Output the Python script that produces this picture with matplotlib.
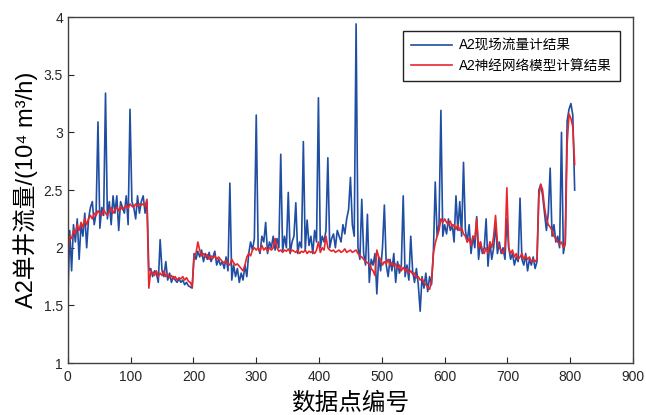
import numpy as np
import matplotlib
matplotlib.use('Agg')
import matplotlib.pyplot as plt

plt.rcParams['font.family'] = ['Liberation Sans', 'Noto Sans CJK SC', 'DejaVu Sans']

# sample index, every 3 points
idx = np.arange(0, 810, 3)

# A2 field flowmeter readings
flow_meter = [
    1.55, 2.15, 1.8, 2.2, 2.05, 2.25, 1.9, 2.2, 2.1, 2.3,
    2.0, 2.25, 2.35, 2.4, 2.2, 2.3, 3.09, 2.17, 2.35, 2.28,
    3.34, 2.25, 2.4, 2.2, 2.45, 2.3, 2.45, 2.15, 2.4, 2.35,
    2.3, 2.45, 2.2, 3.2, 2.4, 2.35, 2.25, 2.45, 2.3, 2.4,
    2.45, 2.3, 2.4, 1.8, 1.82, 1.75, 1.8, 1.78, 1.7, 2.07,
    1.8, 1.75, 1.88, 1.72, 1.78, 1.7, 1.75, 1.72, 1.7, 1.73,
    1.7, 1.72, 1.68, 1.7, 1.67, 1.66, 1.65, 1.95, 1.9, 1.97,
    1.92, 1.98, 1.88, 1.95, 1.9, 1.96, 1.88, 1.92, 1.97, 1.85,
    1.9, 1.85, 1.88, 1.82, 1.92, 1.8, 2.56, 1.72, 1.85, 1.75,
    1.82, 1.7, 1.78, 1.72, 1.85, 1.75, 1.95, 2.05, 1.98, 2.08,
    3.15, 2.0, 1.95, 2.1, 2.05, 2.22, 1.95, 2.05, 2.0, 2.1,
    1.98, 2.08, 2.0, 2.81, 1.97, 2.1, 2.0, 2.48, 1.95, 2.05,
    2.1, 2.39, 1.95, 2.05, 2.0, 2.92, 1.98, 2.24, 2.02, 2.1,
    1.95, 2.15, 2.05, 3.3, 2.0, 2.1, 2.05, 2.15, 2.78, 2.0,
    2.08, 2.12, 2.0, 2.15, 2.1, 2.05, 2.2, 2.12, 2.25, 2.33,
    2.61, 2.2, 2.1, 3.94, 2.0, 1.9, 2.42, 1.95, 1.85, 2.29,
    1.7, 1.9, 1.85, 1.95, 1.6, 1.92, 1.8, 2.0, 2.37, 1.85,
    1.75, 1.9, 1.8, 1.95, 1.7, 1.88, 1.78, 1.85, 2.45, 1.75,
    1.85, 1.72, 2.1, 1.8, 1.7, 1.82, 1.68, 1.45, 1.75, 1.65,
    1.78, 1.62, 1.75, 1.68, 1.95, 2.57, 2.1, 2.2, 3.19, 2.1,
    2.2, 2.12, 2.25, 2.15, 2.2, 2.05, 2.45, 2.15, 2.4, 2.1,
    2.74, 2.15, 2.05, 2.2, 1.95, 2.1, 2.0, 2.27, 1.9, 2.05,
    1.95, 2.0, 2.25, 1.84, 2.05, 1.9, 2.0, 2.21, 1.95, 2.05,
    1.95, 2.0, 1.9, 2.25, 2.0, 1.9, 1.95, 1.85, 1.92, 1.88,
    2.43, 1.9, 1.85, 1.95, 1.8, 1.9, 1.85, 1.92, 1.82, 1.88,
    2.5, 2.55, 2.45, 2.3, 2.15, 2.3, 2.69, 2.1, 2.2, 2.05,
    2.1, 2.0, 3.0, 1.95, 2.05, 3.1, 3.2, 3.25, 3.15, 2.5,
]

# A2 neural network model output
nn_model = [
    1.95, 2.1, 2.08, 2.15, 2.12, 2.2, 2.15, 2.22, 2.18, 2.25,
    2.2, 2.25, 2.28, 2.25, 2.3, 2.28, 2.32, 2.3, 2.28, 2.33,
    2.3, 2.28, 2.32, 2.35, 2.3, 2.33, 2.35, 2.32, 2.36, 2.33,
    2.35, 2.37, 2.34, 2.38, 2.36, 2.35, 2.38, 2.36, 2.38, 2.37,
    2.38, 2.36, 2.42, 1.65, 1.8, 1.78, 1.76, 1.8, 1.75, 1.78,
    1.76, 1.8, 1.75, 1.77, 1.74, 1.76, 1.73, 1.75, 1.72, 1.74,
    1.73, 1.75, 1.72, 1.74, 1.71, 1.7, 1.66, 1.92, 1.95, 2.05,
    1.98, 1.93, 1.95, 1.92, 1.94, 1.9, 1.93, 1.91, 1.93, 1.9,
    1.92, 1.9, 1.88, 1.87, 1.89, 1.86, 1.85, 1.9, 1.87, 1.85,
    1.86, 1.84, 1.82, 1.8, 1.85, 1.92, 1.95, 1.93, 1.98, 2.0,
    1.98, 2.0, 1.97, 2.02, 1.98, 2.0, 1.97, 2.0, 1.98, 2.0,
    2.08, 2.0, 1.97, 1.98, 1.96, 1.98, 1.97, 1.99, 1.96, 1.98,
    1.97, 1.96, 1.98, 1.95, 1.97, 1.96, 1.98, 1.95, 1.97, 1.96,
    1.97, 1.95, 1.98, 2.05, 1.96, 2.0, 1.98, 2.1, 2.0, 1.98,
    1.97, 1.98, 1.96, 1.97, 1.98, 1.96, 1.97, 1.99, 1.96, 1.97,
    1.98, 1.96, 1.97, 1.98, 1.95, 1.93, 1.92, 1.9, 1.88, 1.87,
    1.86, 1.82, 1.8, 1.76, 1.98, 1.92, 1.9, 1.85, 1.88, 1.86,
    1.9, 1.85, 1.87, 1.84, 1.86, 1.82, 1.85, 1.8, 1.83, 1.8,
    1.82, 1.78, 1.8, 1.77, 1.78, 1.74, 1.75, 1.72, 1.73, 1.7,
    1.68, 1.66, 1.64, 1.7, 1.95, 2.04, 2.1, 2.15, 2.25, 2.22,
    2.25, 2.22, 2.2, 2.23, 2.18, 2.2, 2.16, 2.2, 2.15, 2.17,
    2.12, 2.1, 2.05, 2.08, 2.02, 2.1, 2.08, 2.25, 2.0, 2.05,
    1.98, 1.95, 2.0, 1.95, 2.05, 2.0, 2.1, 2.28, 2.05, 2.0,
    1.98, 1.95, 2.0, 2.52, 2.0, 1.95, 1.98, 1.92, 1.95, 1.9,
    1.92, 1.95, 1.9, 1.93, 1.9, 1.92, 1.88, 1.9, 1.88, 1.9,
    2.45, 2.55, 2.5, 2.35, 2.25, 2.2, 2.18, 2.15, 2.1, 2.08,
    2.05, 2.03, 2.05, 2.0, 2.03, 2.9, 3.16, 3.12, 3.05, 2.72,
]

fig = plt.figure(figsize=(6.46, 4.15), dpi=100)
ax = fig.add_axes([0.105, 0.125, 0.875, 0.834])

ax.plot(idx, flow_meter, color='#1f4ea3', lw=1.2, label='A2现场流量计结果')
ax.plot(idx, nn_model, color='#e8262b', lw=1.2, label='A2神经网络模型计算结果')

ax.set_xlim(0, 900)
ax.set_ylim(1, 4)
ax.set_xticks(np.arange(0, 901, 100))
ax.set_yticks([1, 1.5, 2, 2.5, 3, 3.5, 4])
ax.set_yticklabels(['1', '1.5', '2', '2.5', '3', '3.5', '4'])
ax.tick_params(direction='in', labelsize=10, colors='#262626', length=4)
ax.tick_params(axis='x', pad=5)
for s in ax.spines.values():
    s.set_color('#404040')
    s.set_linewidth(1.0)

ax.set_xlabel('数据点编号', fontsize=17, labelpad=6)
ax.set_ylabel('A2单井流量/(10⁴ m³/h)', fontsize=17, labelpad=4)

leg = ax.legend(loc='upper right', bbox_to_anchor=(0.977, 0.96), borderaxespad=0,
                fontsize=9.8, fancybox=False, edgecolor='#222222', framealpha=1,
                handlelength=3.0, handletextpad=0.5, borderpad=0.6,
                labelspacing=0.45)
leg.get_frame().set_linewidth(1.0)

fig.savefig('out.png', dpi=100)
